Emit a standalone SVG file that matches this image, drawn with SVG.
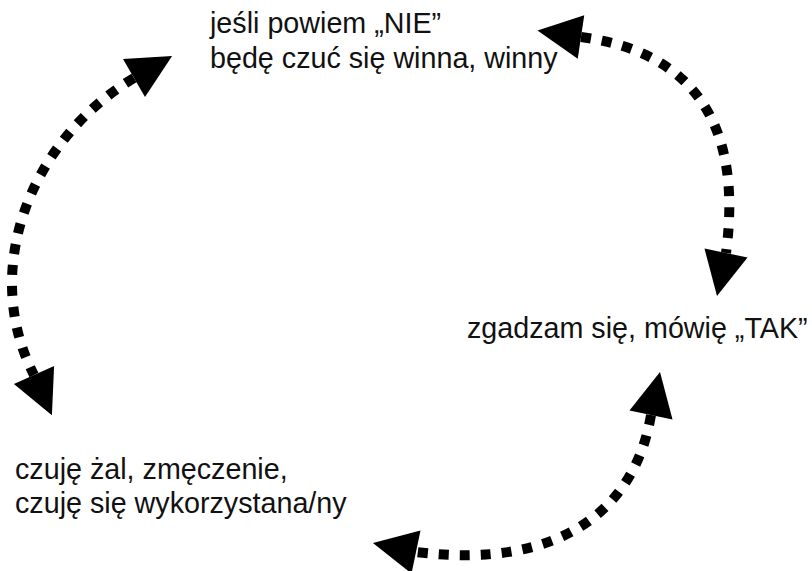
<svg xmlns="http://www.w3.org/2000/svg" xmlns:xlink="http://www.w3.org/1999/xlink" width="812" height="571" viewBox="0 0 812 571">
  <style>
    .lbl { font-family: "Liberation Sans", Arial, Helvetica, sans-serif; font-size: 28.7px; fill: #111; }
    .arc { fill: none; stroke: #000; stroke-width: 10; stroke-dasharray: 10 11; }
    .head { fill: #000; }
  </style>
  <defs>
    <path id="head" d="M0,-22 L44,0 L0,22 Z"/>
  </defs>
  <rect width="812" height="571" fill="#fff"/>
  <g id="connectors">
    <g id="arc-left">
      <path class="arc" d="M134,78 C30,140 -20,270 34,375"/>
      <use class="head" xlink:href="#head" href="#head" transform="translate(134,78) rotate(-30)"/>
      <use class="head" xlink:href="#head" href="#head" transform="translate(34,375) rotate(66)"/>
    </g>
    <g id="arc-right">
      <path class="arc" d="M581,37 C680,50 745,110 726,253"/>
      <use class="head" xlink:href="#head" href="#head" transform="translate(581,37) rotate(-171.5)"/>
      <use class="head" xlink:href="#head" href="#head" transform="translate(726,253) rotate(101.8)"/>
    </g>
    <g id="arc-bottom">
      <path class="arc" d="M651,415 C635,510 560,570 416,552"/>
      <use class="head" xlink:href="#head" href="#head" transform="translate(651,415) rotate(-78.2)"/>
      <use class="head" xlink:href="#head" href="#head" transform="translate(416,552) rotate(-168.2)"/>
    </g>
  </g>
  <g id="node-nie">
    <text class="lbl" x="210" y="33">jeśli powiem „NIE”</text>
    <text class="lbl" x="210" y="68">będę czuć się winna, winny</text>
  </g>
  <g id="node-tak">
    <text class="lbl" x="467" y="338">zgadzam się, mówię „TAK”</text>
  </g>
  <g id="node-zal">
    <text class="lbl" x="15" y="479">czuję żal, zmęczenie,</text>
    <text class="lbl" x="15" y="513">czuję się wykorzystana/ny</text>
  </g>
</svg>
